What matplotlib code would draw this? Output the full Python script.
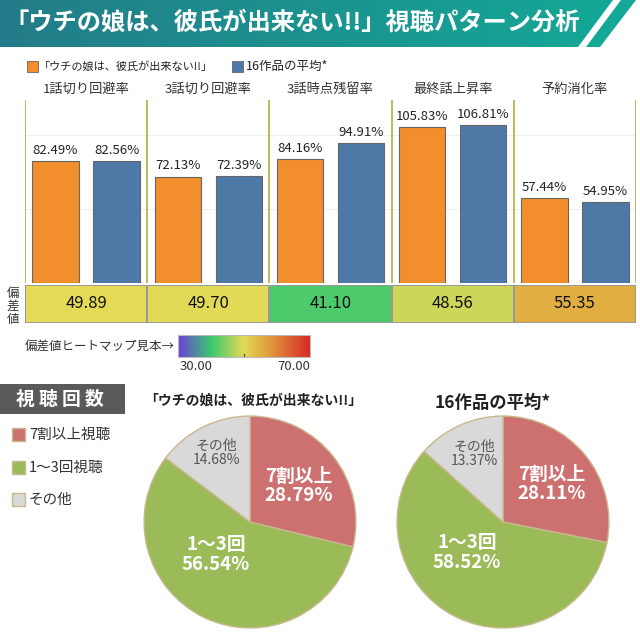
import matplotlib
matplotlib.use("Agg")
import matplotlib.pyplot as plt
from matplotlib.colors import LinearSegmentedColormap
from matplotlib.patches import Polygon, Rectangle
import numpy as np

plt.rcParams['font.family'] = ['Noto Sans CJK JP', 'DejaVu Sans']

W, H = 640, 644

# data
metrics = ["1話切り回避率", "3話切り回避率", "3話時点残留率", "最終話上昇率", "予約消化率"]
show_vals = [82.49, 72.13, 84.16, 105.83, 57.44]
avg_vals = [82.56, 72.39, 94.91, 106.81, 54.95]
dev_scores = [49.89, 49.70, 41.10, 48.56, 55.35]
show_name = "「ウチの娘は、彼氏が出来ない!!」"
avg_name = "16作品の平均*"
view_labels = ["7割以上視聴", "1～3回視聴", "その他"]
pie_short = ["7割以上", "1～3回", "その他"]
show_share = [28.79, 56.54, 14.68]
avg_share = [28.11, 58.52, 13.37]

ORANGE = '#f28e2b'
BLUE = '#4e79a7'
pie_colors = ['#cd7170', '#9bbb59', '#d9d9d9']
heat = LinearSegmentedColormap.from_list(
    'heat', [(0, '#6a40d8'), (0.25, '#3ac86e'), (0.5, '#e5da55'),
             (0.68, '#e0a03c'), (1.0, '#d62a28')])


def px_axes(fig, x0, y0, x1, y1):
    return fig.add_axes([x0 / W, 1 - y1 / H, (x1 - x0) / W, (y1 - y0) / H])


fig = plt.figure(figsize=(6.4, 6.44), dpi=100)
fig.patch.set_facecolor('white')

# background / annotation layer
bg = fig.add_axes([0, 0, 1, 1])
bg.axis('off')

teal = LinearSegmentedColormap.from_list('teal', ['#237c89', '#14a896'])
banner = Polygon([(0, 0), (613, 0), (578, 47), (0, 47)], closed=True,
                 fc='none', ec='none')
bg.add_patch(banner)
im = bg.imshow(np.linspace(0, 1, 256)[None, :], cmap=teal, aspect='auto',
               extent=(0, 613, 47, 0))
im.set_clip_path(banner)
bg.add_patch(Polygon([(621, 0), (636, 0), (600, 47), (586, 47)],
                     closed=True, fc='#14a896', ec='none'))
bg.set_xlim(0, W)
bg.set_ylim(H, 0)

bg.text(4, 23, show_name + "視聴パターン分析", color='white', fontsize=17.5,
        fontweight='bold', va='center', ha='left')

# top legend
bg.add_patch(Rectangle((27, 61), 11, 11, fc=ORANGE, ec='#666', lw=0.6))
bg.text(39, 66.5, show_name, fontsize=8, va='center', color='#222')
bg.add_patch(Rectangle((232, 61), 11, 11, fc=BLUE, ec='#666', lw=0.6))
bg.text(246, 66.5, avg_name, fontsize=9, va='center', color='#222')

# bar panels
ax = px_axes(fig, 25, 100, 636, 283)
x = np.arange(len(metrics))
b1 = ax.bar(x - 0.25, show_vals, width=0.38, color=ORANGE, edgecolor='#666', lw=0.8)
b2 = ax.bar(x + 0.25, avg_vals, width=0.38, color=BLUE, edgecolor='#666', lw=0.8)
ax.bar_label(b1, fmt='%.2f%%', padding=3, fontsize=9.5, color='#222')
ax.bar_label(b2, fmt='%.2f%%', padding=3, fontsize=9.5, color='#222')
ax.set_xlim(-0.5, len(metrics) - 0.5)
ax.set_ylim(0, 124)
for g in (50, 100):
    ax.axhline(g, color='#efefef', lw=0.8, zorder=0)
for s in np.arange(-0.5, len(metrics), 1.0):
    ax.axvline(s, color='#b0b040', lw=1.2)
for i, m in enumerate(metrics):
    ax.text(i, 131, m, ha='center', va='center', fontsize=9.5, color='#333',
            clip_on=False)
for sp in ax.spines.values():
    sp.set_visible(False)
ax.set_xticks([])
ax.set_yticks([])

# deviation heatmap row
hax = px_axes(fig, 25, 285, 636, 323)
hax.pcolormesh(np.arange(len(metrics) + 1) - 0.5, [0, 1],
               np.array(dev_scores)[None, :], cmap=heat, vmin=30, vmax=70,
               edgecolors='#999999', linewidth=1.2)
for i, v in enumerate(dev_scores):
    hax.text(i, 0.5, f"{v:.2f}", ha='center', va='center', fontsize=12, color='#111')
hax.set_xlim(-0.5, len(metrics) - 0.5)
hax.set_ylim(0, 1)
hax.axis('off')
bg.text(13, 306, "偏\n差\n値", ha='center', va='center', fontsize=9,
        linespacing=1.0, color='#333')

# colour scale sample
bg.text(25, 346, "偏差値ヒートマップ見本→", fontsize=9, va='center', color='#333')
cax = px_axes(fig, 178, 335, 310, 357)
cax.imshow(np.linspace(30, 70, 256)[None, :], cmap=heat, aspect='auto',
           extent=(30, 70, 0, 1))
cax.plot([50, 50], [0, 0.15], color='#555', lw=1)
cax.set_xlim(30, 70)
cax.set_ylim(0, 1)
cax.set_xticks([])
cax.set_yticks([])
for sp in cax.spines.values():
    sp.set_color('#bbbbbb')
bg.text(180, 366, "30.00", fontsize=9.5, va='center', ha='left', color='#333')
bg.text(310, 366, "70.00", fontsize=9.5, va='center', ha='right', color='#333')

# viewing count section
bg.add_patch(Rectangle((0, 384), 125, 30, fc='#5a5a5a', ec='none'))
bg.text(60, 399, "視 聴 回 数", color='white', fontsize=13.5, fontweight='bold',
        ha='center', va='center')
for k, lab in enumerate(view_labels):
    yk = 428 + k * 32.5
    bg.add_patch(Rectangle((12, yk), 13, 13, fc=pie_colors[k], ec='#c9b88c', lw=1))
    bg.text(29, yk + 7, lab, fontsize=10.5, va='center', ha='left', color='#333')

pie_specs = [
    (show_share, show_name, 10, (143, 415, 357, 629), 253, 401,
     [(0.46, 0.34), (-0.32, -0.31), (-0.32, 0.65)]),
    (avg_share, avg_name, 12.5, (396, 415, 610, 629), 493, 403,
     [(0.46, 0.36), (-0.34, -0.29), (-0.27, 0.64)]),
]
for shares, title, tsize, box, tx, ty, lpos in pie_specs:
    pax = px_axes(fig, *box)
    pax.pie(shares, colors=pie_colors, startangle=90, counterclock=False,
            radius=1, wedgeprops=dict(edgecolor='#c9b88c', linewidth=1))
    pax.set_xlim(-1.01, 1.01)
    pax.set_ylim(-1.01, 1.01)
    pax.set_aspect('equal')
    for k, (lx, ly) in enumerate(lpos):
        txt = f"{pie_short[k]}\n{shares[k]:.2f}%"
        if k < 2:
            pax.text(lx, ly, txt, ha='center', va='center', fontsize=13.5,
                     fontweight='bold', color='white', linespacing=1.05)
        else:
            pax.text(lx, ly, txt, ha='center', va='center', fontsize=10,
                     color='#555', linespacing=1.0)
    bg.text(tx, ty, title, ha='center', va='center', fontsize=tsize,
            fontweight='bold', color='#222')

fig.savefig('out.png', dpi=100, facecolor='white')
